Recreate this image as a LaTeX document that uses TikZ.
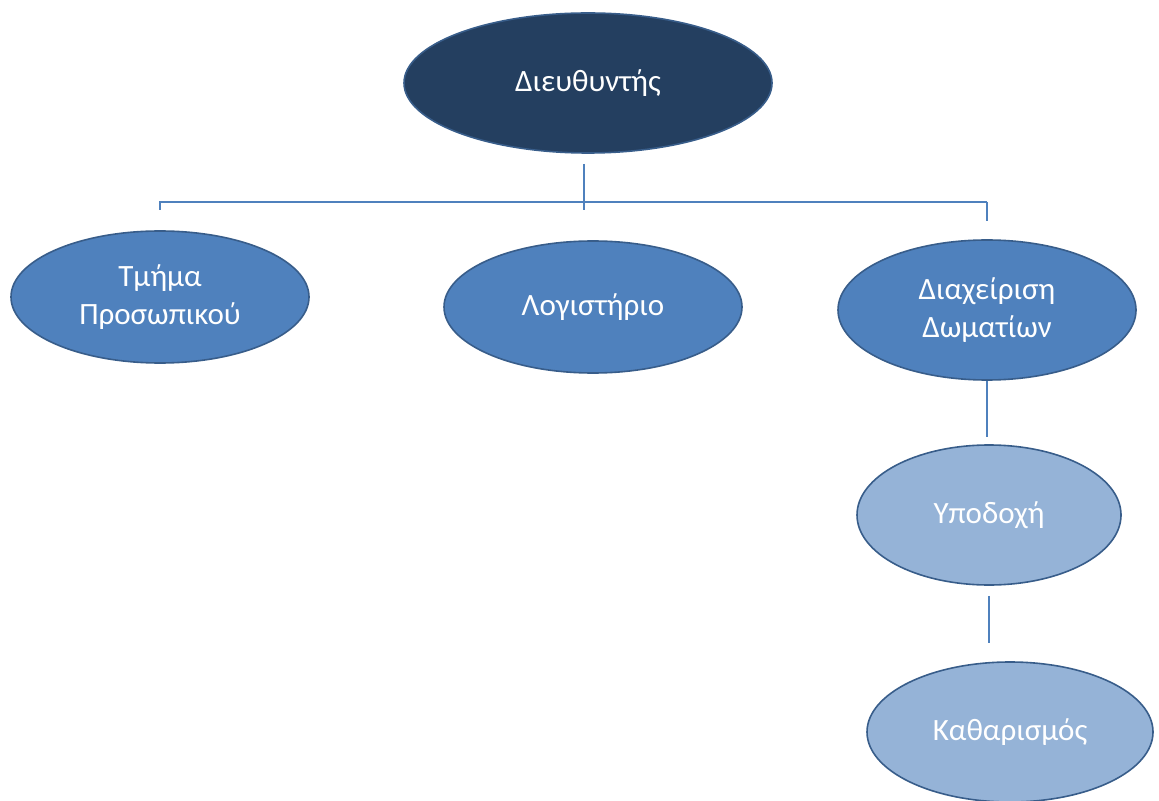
\documentclass[tikz,border=0pt]{standalone}
\usepackage{fontspec}
\setmainfont{Carlito}
\usetikzlibrary{shapes.geometric, positioning}

\definecolor{navy}{HTML}{243F60}
\definecolor{midblue}{HTML}{4F81BD}
\definecolor{lightblue}{HTML}{95B3D7}
\definecolor{rim}{HTML}{385D8A}

\begin{document}
\begin{tikzpicture}[x=0.5pt, y=-0.5pt]
\tikzstyle{oval}=[ellipse, inner sep=0pt, draw=rim, line width=0.8pt, text=white, align=center, font=\fontsize{15.5}{19}\selectfont]
\tikzstyle{top}=[oval, fill=navy, minimum width=184pt, minimum height=70pt]
\tikzstyle{dept}=[oval, fill=midblue, minimum width=149pt, minimum height=66pt]
\tikzstyle{sub}=[oval, fill=lightblue, minimum width=132pt, minimum height=70pt]
\tikzstyle{link}=[draw=midblue, line width=0.8pt]
\useasboundingbox (0,0) rectangle (1159,801);
% 1. Nodes
%%%%%%%%%%
\node[top] (boss) at (588,83) {Διευθυντής};

\node[dept] (hr) at (160,297) {Τμήμα\\Προσωπικού};
\node[dept] (acct) at (593,307) {Λογιστήριο};
\node[dept, minimum height=70pt] (rooms) at (987,310) {Διαχείριση\\Δωματίων};

\node[sub] (desk) at (989,515) {Υποδοχή};
\node[sub, minimum width=143pt] (clean) at (1010,732) {Καθαρισμός};

\coordinate (bar) at (584,202);
% 2. Lines
%%%%%%%%%%
\draw[link, shorten <=5pt, shorten >=15pt] (bar |- boss.south) -- (bar |- acct.north);
\draw[link, shorten >=10pt] (bar -| rooms.north) -- (bar -| hr.north) -- (hr.north);
\draw[link, shorten >=9pt] (bar -| rooms.north) -- (rooms.north);
\draw[link, shorten >=3.5pt] (rooms.south) -- (rooms.south |- desk.north);
\draw[link, shorten <=5pt, shorten >=9pt] (desk.south) -- (desk.south |- clean.north);

\end{tikzpicture}
\end{document}
